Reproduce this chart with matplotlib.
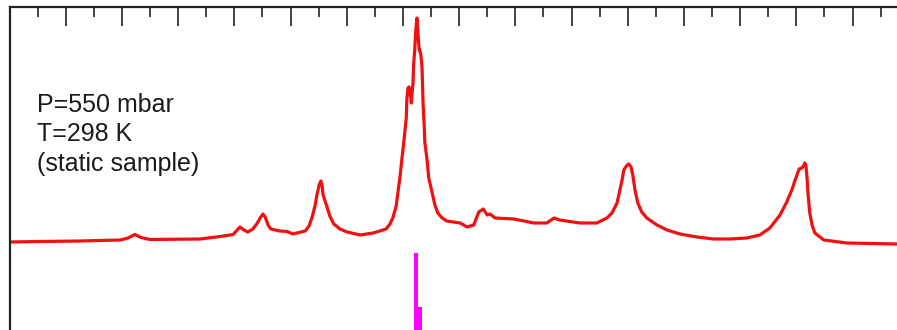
import numpy as np
import matplotlib.pyplot as plt
from matplotlib.ticker import MultipleLocator

# red spectrum (position in arb. units, intensity in arb. units)
red_x = [0.1, 5.4, 12.5, 19.7, 21.1, 22.3, 23.4, 25.0, 33.9, 37.5, 39.8, 41.0, 41.7, 42.4,
         43.3, 44.0, 44.6, 45.1, 45.5, 46.0, 46.5, 48.1, 49.4, 50.4,
         52.6, 53.3, 53.8, 54.4, 54.7, 55.1, 55.4, 55.6, 55.8, 56.1, 56.5, 57.0, 57.7, 58.8, 60.1,
         62.4, 64.7, 65.9, 67.0, 67.7, 68.2, 68.8, 69.1, 69.5, 69.8, 70.2, 70.6, 70.7, 70.9,
         71.1, 71.3, 71.5, 71.6, 71.8, 71.9, 72.1, 72.3, 72.5, 72.7, 72.9, 73.0, 73.2, 73.4,
         73.6, 73.8, 73.9, 74.3, 74.6, 75.2, 75.7, 76.2, 77.0, 77.8,
         80.2, 81.4, 82.6, 83.5, 84.3, 85.0, 85.5, 86.4, 89.8, 93.3, 95.6, 96.9, 97.9, 101.5,
         104.5, 106.3, 107.2, 108.1, 108.6, 109.0, 109.3, 109.9, 110.2, 110.6, 110.9, 111.3,
         111.8, 112.5, 113.4, 115.2, 117.0, 119.3,
         122.3, 125.3, 128.2, 131.2, 133.5, 135.3, 137.1, 138.3, 139.2, 139.8, 140.5, 141.0,
         141.4, 141.5, 141.7, 141.9, 142.1, 142.4, 142.8, 143.3, 144.9, 149.0, 157.9, 165.0]
red_y = [3, 3.5, 4, 5, 7, 10.5, 7.5, 5.5, 6, 8.5, 10.5, 18, 15, 13,
         16, 21, 27, 31, 28, 20, 16, 14, 13.5, 11,
         14, 19, 27, 40, 50, 60, 64, 60, 50, 45, 38, 29, 21, 16, 13,
         10, 12, 14, 16, 21, 27, 39, 52, 69, 85, 105, 127, 145, 157,
         158, 153, 142, 150, 162, 180, 195, 215, 227, 210, 195, 195, 190, 178,
         140, 118, 103, 85, 67, 52, 40, 32, 27, 24,
         22, 18, 20, 33, 36, 30, 31, 27, 26, 22, 22, 27, 25, 22,
         22, 27, 32, 42, 55, 65, 75, 80, 81, 78, 70, 55,
         42, 33, 27, 20, 15, 11,
         8, 6, 6, 7, 10, 17, 30, 43, 55, 65, 76, 77,
         80, 82, 80, 68, 50, 32, 20, 12, 5, 2, 1, 1]

# magenta stick spectrum
stick_x = [72.35, 72.75]
stick_h = [-8, -62]
stick_w = [0.65, 1.4]
stick_base = -130

fig = plt.figure(figsize=(8.97, 3.30), dpi=100)
ax = fig.add_axes([9.5 / 897, 1 - 375 / 330, 955.4 / 897, 368 / 330])

ax.plot(red_x, red_y, color='#f01010', linewidth=2.3, solid_joinstyle='round')
ax.bar(stick_x, np.array(stick_h) - stick_base, width=stick_w, bottom=stick_base,
       color='#ff00ff', linewidth=0)

ax.set_xlim(0, 170)
ax.set_ylim(-130, 238)

for s in ['right', 'bottom']:
    ax.spines[s].set_visible(False)
for s in ['left', 'top']:
    ax.spines[s].set_linewidth(1.6)
    ax.spines[s].set_color('#222222')

ax.xaxis.set_major_locator(MultipleLocator(10))
ax.xaxis.set_minor_locator(MultipleLocator(5))
ax.tick_params(axis='x', which='both', top=True, bottom=False, labeltop=False,
               labelbottom=False, direction='in', color='#222222')
ax.tick_params(axis='x', which='major', length=13.5, width=1.2)
ax.tick_params(axis='x', which='minor', length=7, width=1.2)
ax.tick_params(axis='y', left=False, labelleft=False)

lines = ['P=550 mbar', 'T=298 K', '(static sample)']
for i, t in enumerate(lines):
    fig.text(37 / 897, 1 - (112 + 29.3 * i) / 330, t, fontsize=18,
             family='Liberation Sans', color='#1a1a1a', va='baseline', ha='left')

fig.savefig('out.png', dpi=100)
